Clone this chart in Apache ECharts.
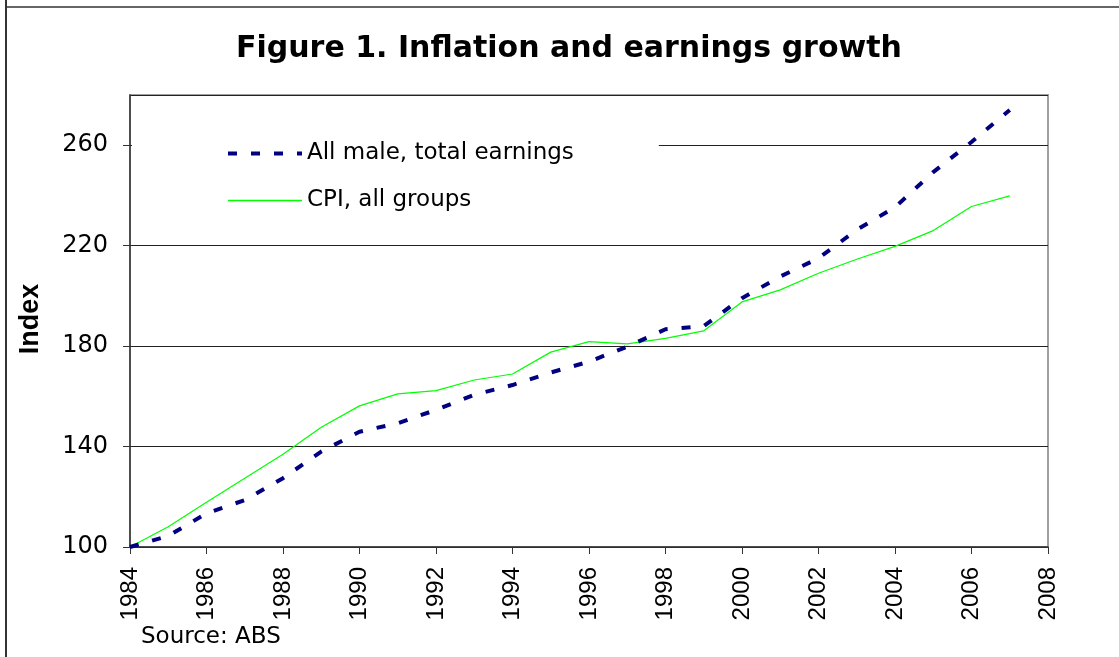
<!DOCTYPE html>
<html>
<head>
<meta charset="utf-8">
<script src="https://cdn.jsdelivr.net/npm/echarts@6/dist/echarts.min.js"></script>
<style>
html,body{margin:0;padding:0;background:#fff;}
#main{width:1119px;height:657px;}
</style>
</head>
<body>
<div id="main"></div>
<script>
// ---- data ----
const years = [1984,1985,1986,1987,1988,1989,1990,1991,1992,1993,1994,1995,1996,1997,1998,1999,2000,2001,2002,2003,2004,2005,2006,2007];
const earnings = [100,104.4,113.4,118.7,127.4,138.0,145.9,149.3,154.6,160.6,164.5,169.5,173.8,179.8,186.7,188.0,199.1,207.7,215.0,226.3,235.3,249.3,261.3,274.0];
const cpi = [100,108.1,117.8,127.4,136.9,147.7,156.2,161.0,162.3,166.5,168.9,177.6,181.8,180.9,183.1,186.1,197.6,202.4,209.0,214.6,219.7,226.0,235.6,239.8];
const seriesNames = ['All male, total earnings','CPI, all groups'];
const titleText = 'Figure 1. Inflation and earnings growth';
const yAxisTitle = 'Index';
const sourceText = 'Source: ABS';

const chart = echarts.init(document.getElementById('main'), null, {renderer:'canvas'});
const F = 'DejaVu Sans';
const option = {
  animation: false,
  backgroundColor: '#fff',
  title: {
    text: titleText,
    left: 231,
    top: 29,
    textStyle: {fontFamily: F, fontWeight: 'bold', fontSize: 30, color: '#000'}
  },
  grid: {
    left: 130, right: 71, top: 95, bottom: 110,
    show: true, borderColor: '#a0a0a0', borderWidth: 2, backgroundColor: 'transparent'
  },
  legend: {
    orient: 'vertical',
    left: 132, top: 112,
    padding: [30, 85, 18, 94],
    backgroundColor: '#fff',
    itemWidth: 74, itemHeight: 25, itemGap: 24,
    textStyle: {fontFamily: F, fontSize: 23, color: '#000', padding: [0,0,0,0]},
    data: [
      {name: seriesNames[0], itemStyle: {color: 'rgba(0,0,0,0)', borderWidth: 0, opacity: 0},
        lineStyle: {width: 4, type: [9,14], color: '#000080', opacity: 1}},
      {name: seriesNames[1], itemStyle: {color: 'rgba(0,0,0,0)', borderWidth: 0, opacity: 0},
        lineStyle: {width: 1.5, color: '#00ff00', opacity: 1}}
    ]
  },
  xAxis: {
    type: 'value', min: 1984, max: 2008, interval: 2,
    axisLine: {lineStyle: {color: '#333', width: 1.5}},
    axisTick: {show: true, inside: false, length: 7, lineStyle: {color: '#333', width: 1}},
    axisLabel: {rotate: 90, margin: 20, fontFamily: 'Liberation Sans', fontSize: 24, color: '#000',
      formatter: v => String(v)},
    splitLine: {show: false}
  },
  yAxis: {
    type: 'value', min: 100, max: 280, interval: 40,
    axisLine: {show: true, lineStyle: {color: '#333', width: 1.5}},
    axisTick: {show: true, inside: false, length: 7, lineStyle: {color: '#333', width: 1}},
    axisLabel: {margin: 22, fontFamily: F, fontSize: 24, color: '#000', showMaxLabel: false,
      formatter: v => (v >= 280 ? '' : String(v))},
    splitLine: {show: true, lineStyle: {color: '#222', width: 1}}
  },
  series: [
    {
      name: seriesNames[0], type: 'line', symbol: 'none', z: 3,
      data: years.map((y,i) => [y, earnings[i]]),
      lineStyle: {color: '#000080', width: 4, type: [9,14], cap: 'butt'},
      itemStyle: {color: '#000080'}
    },
    {
      name: seriesNames[1], type: 'line', symbol: 'none', z: 2,
      data: years.map((y,i) => [y, cpi[i]]),
      lineStyle: {color: '#00ff00', width: 1.2},
      itemStyle: {color: '#00ff00'}
    }
  ],
  graphic: [
    {type: 'line', shape: {x1: 6, y1: 0, x2: 6, y2: 700}, style: {stroke: '#333', lineWidth: 2}, silent: true},
    {type: 'line', shape: {x1: 5, y1: 7, x2: 1200, y2: 7}, style: {stroke: '#333', lineWidth: 1.5}, silent: true},
    {type: 'text', x: 31, y: 319, rotation: Math.PI/2,
      style: {text: yAxisTitle, font: 'bold 27px "Liberation Sans"', fill: '#000', textAlign: 'center', textVerticalAlign: 'middle'}},
    {type: 'text', x: 141, y: 637,
      style: {text: sourceText, font: '23px "DejaVu Sans"', fill: '#000', textAlign: 'left', textVerticalAlign: 'middle'}}
  ]
};
chart.setOption(option);
</script>
</body>
</html>
